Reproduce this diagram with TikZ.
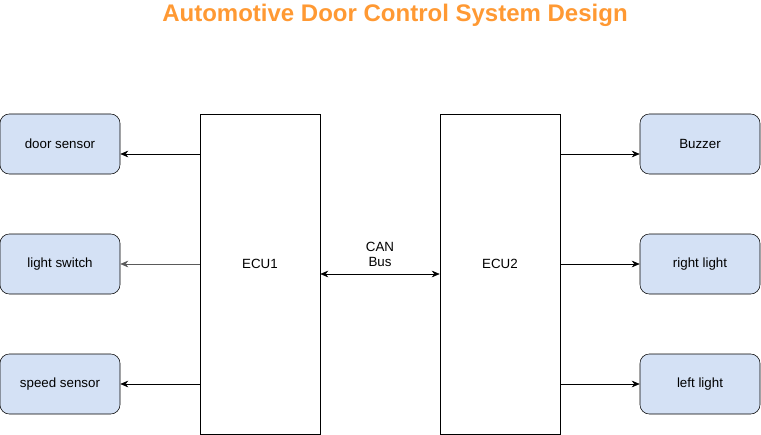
\documentclass[tikz,border=0pt]{standalone}
\usepackage{fontspec}
\setmainfont{Liberation Sans}
\definecolor{titleorange}{RGB}{255, 153, 51}
\definecolor{boxblue}{RGB}{212, 225, 245}
\definecolor{wiregray}{RGB}{90, 90, 90}
\usetikzlibrary{arrows.meta, positioning, calc}

\begin{document}
\begin{tikzpicture}[x=0.75pt, y=-0.75pt,
  devbox/.style={draw, fill=boxblue, rounded corners=7pt, minimum width=90pt, minimum height=45pt, font=\fontsize{10}{12}\selectfont},
  ecubox/.style={draw, fill=white, minimum width=90pt, minimum height=240pt},
  wire/.style={-{Stealth[length=6pt, width=5pt]}}]
  \useasboundingbox (0, 0) rectangle (761, 435);

  \node[font=\bfseries\fontsize{18}{21}\selectfont, titleorange] (title) at (395, 15) {Automotive Door Control System Design};

  % ECUs
  \node[ecubox, label={[yshift=7.5pt, font=\fontsize{10}{12}\selectfont]center:ECU1}] (ecuA) at (260, 274) {};
  \node[ecubox, label={[yshift=7.5pt, font=\fontsize{10}{12}\selectfont]center:ECU2}] (ecuB) at (500, 274) {};

  % inputs
  \node[devbox] (door) at (60, 144) {door sensor};
  \node[devbox] (lswitch) at (60, 264) {light switch};
  \node[devbox] (speed) at (60, 384) {speed sensor};

  % outputs
  \node[devbox] (buzzer) at (700, 144) {Buzzer};
  \node[devbox] (rlight) at (700, 264) {right light};
  \node[devbox] (llight) at (700, 384) {left light};

  % connectors
  \coordinate (doorIn) at ($(door.east)+(0, 10)$);
  \coordinate (buzzIn) at ($(buzzer.west)+(0, 10)$);
  \draw[wire] (ecuA.west |- doorIn) -- (doorIn);
  \draw[wire, wiregray] (ecuA.west |- lswitch.east) -- (lswitch.east);
  \draw[wire] (ecuA.west |- speed.east) -- (speed.east);
  \draw[wire] (ecuB.east |- buzzIn) -- (buzzIn);
  \draw[wire] (ecuB.east |- rlight.west) -- (rlight.west);
  \draw[wire] (ecuB.east |- llight.west) -- (llight.west);

  % CAN bus
  \draw[{Stealth[length=6pt, width=5pt]}-{Stealth[length=6pt, width=5pt]}] (ecuA.east) -- (ecuB.west) node[midway, above=2pt, align=center, font=\fontsize{10}{11}\selectfont] {CAN\\Bus};
\end{tikzpicture}
\end{document}
